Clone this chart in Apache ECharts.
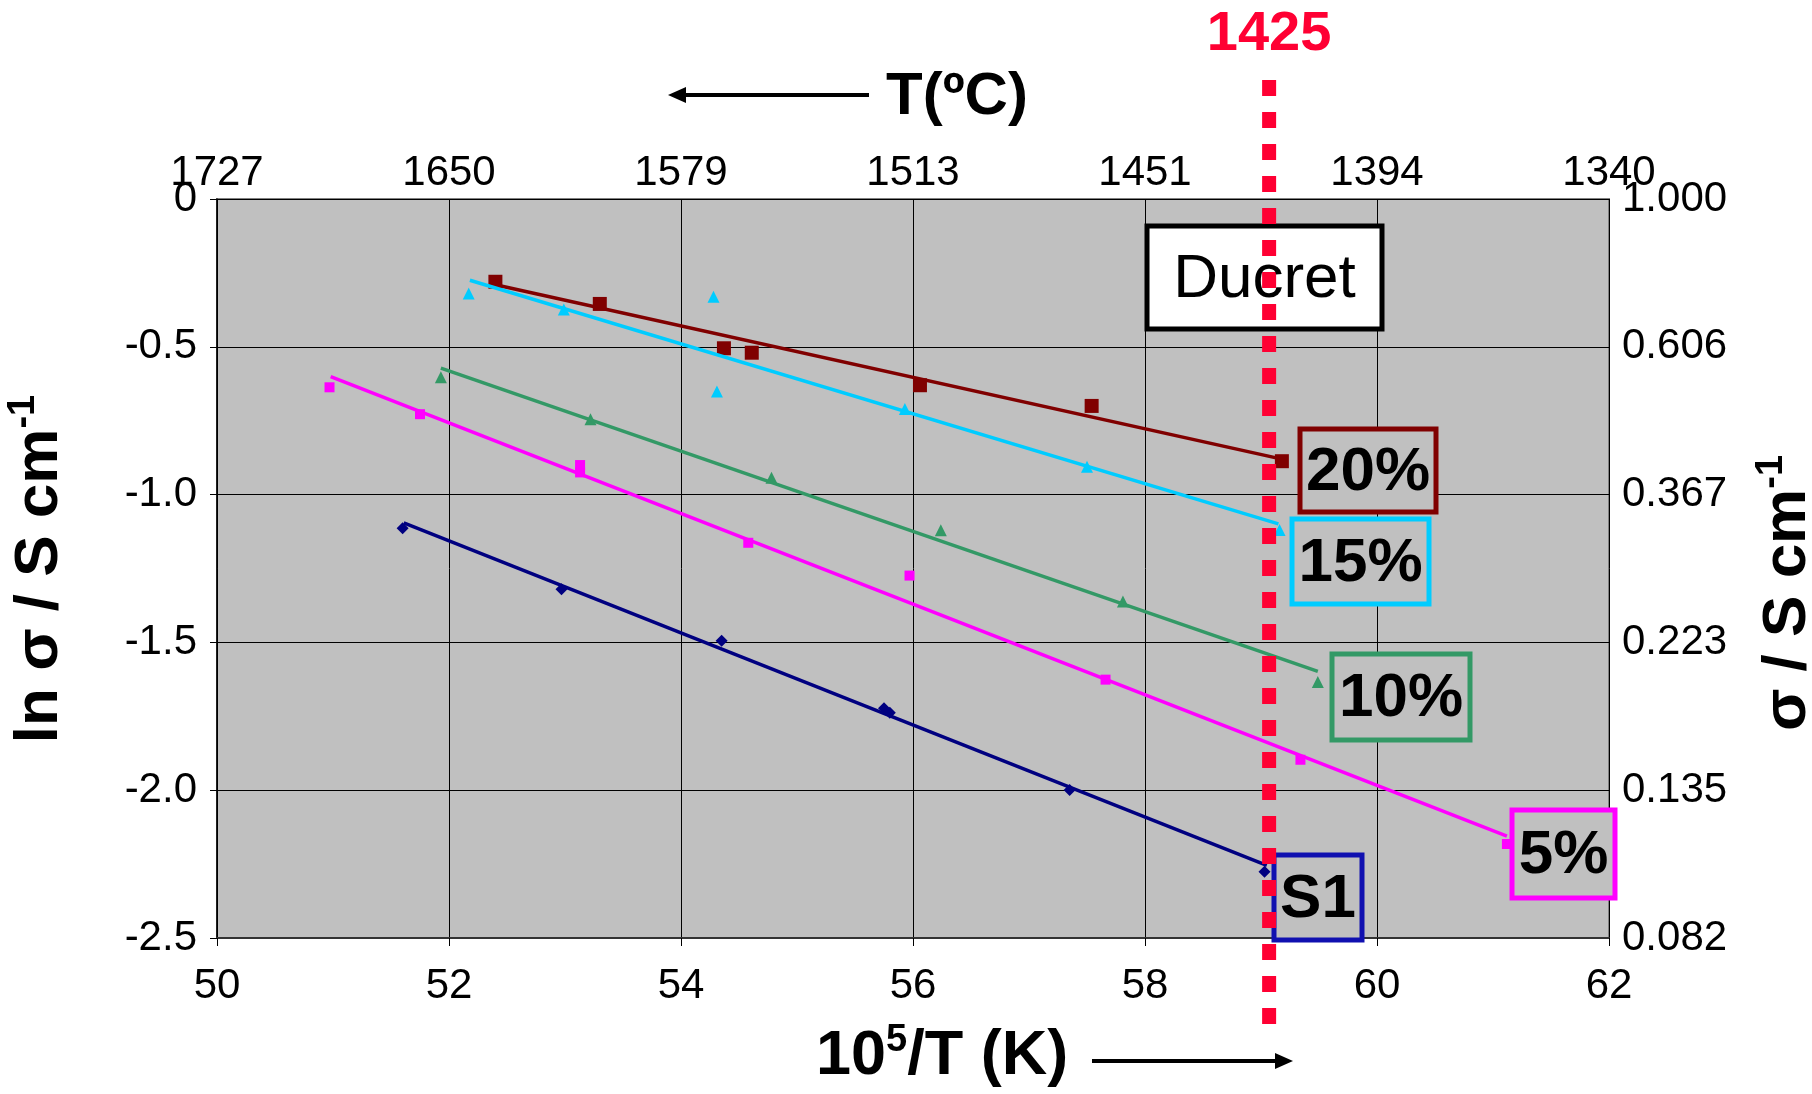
<!DOCTYPE html>
<html><head><meta charset="utf-8">
<script src="https://cdn.jsdelivr.net/npm/echarts@6/dist/echarts.min.js"></script>
<style>html,body{margin:0;padding:0;background:#fff}#c{width:1812px;height:1094px}</style>
</head><body><div id="c"></div>
<script>
// ---- tick labels ----
const xTicks = [50, 52, 54, 56, 58, 60, 62];
const topTickLabels = ['1727', '1650', '1579', '1513', '1451', '1394', '1340'];
const leftTickLabels = ['-2.5', '-2.0', '-1.5', '-1.0', '-0.5', '0'];
const rightTickLabels = ['0.082', '0.135', '0.223', '0.367', '0.606', '1.000'];

// ---- data: x = 10^5/T (K), y = ln sigma ----
const s20x = [52.40, 53.30, 54.37, 54.61, 56.06, 57.54, 59.18];
const s20y = [-0.28, -0.355, -0.505, -0.52, -0.63, -0.70, -0.887];
const s15x = [52.17, 52.99, 54.28, 54.31, 55.93, 57.50, 59.16];
const s15y = [-0.32, -0.374, -0.331, -0.651, -0.71, -0.906, -1.12];
const s10x = [51.93, 53.22, 54.78, 56.24, 57.81, 59.49];
const s10y = [-0.603, -0.745, -0.943, -1.121, -1.362, -1.634];
const s5x = [50.97, 51.75, 53.13, 53.13, 54.58, 55.97, 57.66, 59.34, 61.12];
const s5y = [-0.637, -0.728, -0.90, -0.925, -1.163, -1.274, -1.626, -1.897, -2.182];
const sS1x = [51.60, 52.97, 54.35, 55.75, 55.80, 57.35, 59.03];
const sS1y = [-1.114, -1.32, -1.494, -1.723, -1.738, -1.999, -2.276];

// trend lines (end points)
const fit20x = [52.40, 59.18], fit20y = [-0.29, -0.88];
const fit15x = [52.18, 59.15], fit15y = [-0.275, -1.099];
const fit10x = [51.93, 59.49], fit10y = [-0.572, -1.598];
const fit5x = [50.98, 61.12], fit5y = [-0.601, -2.155];
const fitS1x = [51.61, 59.05], fitS1y = [-1.096, -2.254];

const ducretX = 59.07;       // 1425 °C marker position on the 10^5/T axis
const ducretLabel = '1425';

const zip = (xs, ys) => xs.map((x, i) => [x, ys[i]]);
const FONT = 'Liberation Sans, Arial, sans-serif';

function scatter(name, xs, ys, symbol, size, color) {
  return { name, type: 'scatter', data: zip(xs, ys), symbol, symbolSize: size,
    itemStyle: { color, opacity: 1 }, xAxisIndex: 0, yAxisIndex: 0, z: 3 };
}
function fit(name, xs, ys, color) {
  return { name, type: 'line', data: zip(xs, ys), showSymbol: false, symbol: 'none',
    lineStyle: { color, width: 3.5 }, xAxisIndex: 0, yAxisIndex: 0, z: 4, silent: true };
}

const C20 = '#800000', C15 = '#00CCFF', C10 = '#339966', C5 = '#FF00FF', CS1 = '#000080';
const RED = '#FF0033';

const option = {
  animation: false,
  backgroundColor: '#ffffff',
  grid: { left: 217, right: 203, top: 199, bottom: 156, show: true,
    backgroundColor: '#C0C0C0', borderColor: '#808080', borderWidth: 2 },
  xAxis: [
    { type: 'value', min: 50, max: 62, interval: 2, position: 'bottom',
      axisLine: { show: true, onZero: false, lineStyle: { color: '#333', width: 2 } },
      axisTick: { show: true, length: 8, lineStyle: { color: '#000' } },
      splitLine: { show: true, lineStyle: { color: '#000', width: 1 } },
      axisLabel: { fontSize: 42, color: '#000', fontFamily: FONT, margin: 27 } },
    { type: 'value', min: 50, max: 62, interval: 2, position: 'top',
      axisLine: { show: false }, axisTick: { show: false }, splitLine: { show: false },
      axisLabel: { fontSize: 42, color: '#000', fontFamily: FONT, margin: 5,
        formatter: v => topTickLabels[Math.round((v - xTicks[0]) / 2)] } }
  ],
  yAxis: [
    { type: 'value', min: -2.5, max: 0, interval: 0.5, position: 'left',
      axisLine: { show: true, onZero: false, lineStyle: { color: '#000', width: 1.5 } },
      axisTick: { show: true, length: 7, lineStyle: { color: '#000' } },
      splitLine: { show: true, lineStyle: { color: '#000', width: 1 } },
      axisLabel: { fontSize: 42, color: '#000', fontFamily: FONT, margin: 20,
        formatter: v => leftTickLabels[Math.round((v + 2.5) / 0.5)] } },
    { type: 'value', min: -2.5, max: 0, interval: 0.5, position: 'right',
      axisLine: { show: false }, axisTick: { show: false }, splitLine: { show: false },
      axisLabel: { fontSize: 42, color: '#000', fontFamily: FONT, margin: 13,
        formatter: v => rightTickLabels[Math.round((v + 2.5) / 0.5)] } }
  ],
  series: [
    scatter('20%', s20x, s20y, 'rect', 14, C20),
    scatter('15%', s15x, s15y, 'triangle', 12, C15),
    scatter('10%', s10x, s10y, 'triangle', 12, C10),
    scatter('5%', s5x, s5y, 'rect', 10, C5),
    scatter('S1', sS1x, sS1y, 'diamond', 12, CS1),
    fit('20% fit', fit20x, fit20y, C20),
    fit('15% fit', fit15x, fit15y, C15),
    fit('10% fit', fit10x, fit10y, C10),
    fit('5% fit', fit5x, fit5y, C5),
    fit('S1 fit', fitS1x, fitS1y, CS1)
  ]
};

const chart = echarts.init(document.getElementById('c'), null, { renderer: 'canvas' });
chart.setOption(option);

const lx = chart.convertToPixel({ xAxisIndex: 0 }, ducretX);

function box(x, y, w, h, stroke, text, fill, weight) {
  return [
    { type: 'rect', shape: { x, y, width: w, height: h }, z: 10,
      style: { fill, stroke, lineWidth: 5 } },
    { type: 'text', x: x + w / 2, y: y + h / 2 + 2, z: 30,
      style: { text, fontSize: 62, fontWeight: weight, fontFamily: FONT, fill: '#000',
        align: 'center', verticalAlign: 'middle' } }
  ];
}

const graphics = [].concat(
  box(1147, 226, 235, 103, '#000', 'Ducret', '#fff', 'normal'),
  box(1300, 429, 136, 83, C20, '20%', '#C0C0C0', 'bold'),
  box(1292, 519, 137, 85, C15, '15%', '#C0C0C0', 'bold'),
  box(1332, 654, 138, 86, C10, '10%', '#C0C0C0', 'bold'),
  box(1512, 810, 103, 88, C5, '5%', '#C0C0C0', 'bold'),
  box(1274, 855, 88, 85, '#1010B0', 'S1', '#C0C0C0', 'bold'),
  [
    // red dashed 1425 °C line
    { type: 'line', z: 20, shape: { x1: lx, y1: 80, x2: lx, y2: 1026 },
      style: { stroke: RED, lineWidth: 14, lineDash: [16, 16] } },
    { type: 'text', x: lx, y: 35, z: 20,
      style: { text: ducretLabel, fontSize: 56, fontWeight: 'bold', fontFamily: FONT, fill: RED,
        align: 'center', verticalAlign: 'middle' } },
    // top title with arrow
    { type: 'line', shape: { x1: 682, y1: 95, x2: 869, y2: 95 },
      style: { stroke: '#000', lineWidth: 4 } },
    { type: 'polygon', shape: { points: [[668, 95], [686, 87], [686, 103]] }, style: { fill: '#000' } },
    { type: 'text', x: 886, y: 97,
      style: { text: 'T(ºC)', fontSize: 60, fontWeight: 'bold', fontFamily: FONT, fill: '#000',
        align: 'left', verticalAlign: 'middle' } },
    // bottom title with arrow
    { type: 'text', x: 816, y: 1057,
      style: { text: '{b|10}{s|5}{b|/T (K)}', align: 'left', verticalAlign: 'middle',
        rich: { b: { fontSize: 63, fontWeight: 'bold', fontFamily: FONT, fill: '#000', lineHeight: 70 },
                s: { fontSize: 38, fontWeight: 'bold', fontFamily: FONT, fill: '#000', verticalAlign: 'top' } } } },
    { type: 'line', shape: { x1: 1092, y1: 1061, x2: 1278, y2: 1061 },
      style: { stroke: '#000', lineWidth: 4 } },
    { type: 'polygon', shape: { points: [[1293, 1061], [1275, 1053], [1275, 1069]] }, style: { fill: '#000' } },
    // left title
    { type: 'text', x: 40, y: 569, rotation: Math.PI / 2,
      style: { text: '{b|ln σ / S cm}{s|-1}', align: 'center', verticalAlign: 'middle',
        rich: { b: { fontSize: 62, fontWeight: 'bold', fontFamily: FONT, fill: '#000', lineHeight: 70 },
                s: { fontSize: 38, fontWeight: 'bold', fontFamily: FONT, fill: '#000', verticalAlign: 'top' } } } },
    // right title
    { type: 'text', x: 1788, y: 593, rotation: Math.PI / 2,
      style: { text: '{b|σ / S cm}{s|-1}', align: 'center', verticalAlign: 'middle',
        rich: { b: { fontSize: 62, fontWeight: 'bold', fontFamily: FONT, fill: '#000', lineHeight: 70 },
                s: { fontSize: 38, fontWeight: 'bold', fontFamily: FONT, fill: '#000', verticalAlign: 'top' } } } }
  ]
);

chart.setOption({ graphic: graphics });
</script>
</body></html>
